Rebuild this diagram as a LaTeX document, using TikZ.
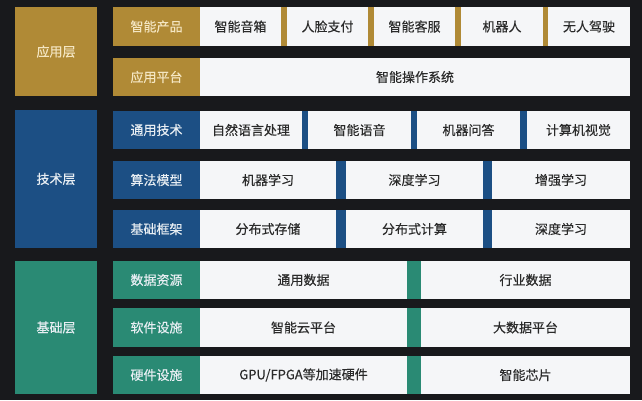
\documentclass[tikz,border=0pt]{standalone}
\usepackage{fontspec}
\setmainfont{Noto Sans CJK SC}[FakeBold=0.3]
\definecolor{bgc}{HTML}{18191C}
\definecolor{goldc}{HTML}{B08A36}
\definecolor{bluec}{HTML}{1C4F84}
\definecolor{greenc}{HTML}{2A8A74}
\definecolor{itemc}{HTML}{F5F6F8}
\definecolor{itemtxt}{HTML}{2A2A2A}
\definecolor{goldtxt}{HTML}{F4E6C2}
\definecolor{lighttxt}{HTML}{E8EEF3}
\tikzset{
  box/.style={rectangle, inner sep=0pt, outer sep=0pt, anchor=north west, font=\fontsize{13}{15}\selectfont},
  item/.style={box, fill=itemc, text=itemtxt},
  goldbox/.style={box, fill=goldc, text=goldtxt},
  bluebox/.style={box, fill=bluec, text=lighttxt},
  greenbox/.style={box, fill=greenc, text=lighttxt},
}
\begin{document}
\begin{tikzpicture}[x=1pt,y=-1pt]
\fill[bgc] (0,0) rectangle (642,400);
\useasboundingbox (0,0) rectangle (642,400);
% ---------- application layer ----------
\node[goldbox, minimum width=82pt, minimum height=89pt] (L1) at (15,7) {应用层};
\node[goldbox, minimum width=517pt, minimum height=39pt] (R11) at (113,7) {};
\node[goldbox, minimum width=87pt, minimum height=39pt] (C11) at (113,7) {智能产品};
\node[item, minimum width=81pt, minimum height=39pt] (a1) at (200,7) {智能音箱};
\node[item, minimum width=81pt, minimum height=39pt] (a2) at (287,7) {人脸支付};
\node[item, minimum width=81pt, minimum height=39pt] (a3) at (374,7) {智能客服};
\node[item, minimum width=82pt, minimum height=39pt] (a4) at (461,7) {机器人};
\node[item, minimum width=82pt, minimum height=39pt] (a5) at (548,7) {无人驾驶};
\node[goldbox, minimum width=87pt, minimum height=38pt] (C12) at (113,58) {应用平台};
\node[item, minimum width=430pt, minimum height=38pt] (a6) at (200,58) {智能操作系统};
% ---------- technology layer ----------
\node[bluebox, minimum width=82pt, minimum height=138pt] (L2) at (15,110) {技术层};
\node[bluebox, minimum width=517pt, minimum height=38pt] (R21) at (113,111) {};
\node[bluebox, minimum width=87pt, minimum height=38pt] (C21) at (113,111) {通用技术};
\node[item, minimum width=102pt, minimum height=38pt] (b1) at (200,111) {自然语言处理};
\node[item, minimum width=103pt, minimum height=38pt] (b2) at (308,111) {智能语音};
\node[item, minimum width=103pt, minimum height=38pt] (b3) at (417,111) {机器问答};
\node[item, minimum width=103pt, minimum height=38pt] (b4) at (527,111) {计算机视觉};
\node[bluebox, minimum width=517pt, minimum height=38pt] (R22) at (113,161) {};
\node[bluebox, minimum width=87pt, minimum height=38pt] (C22) at (113,161) {算法模型};
\node[item, minimum width=136pt, minimum height=38pt] (b5) at (200,161) {机器学习};
\node[item, minimum width=137pt, minimum height=38pt] (b6) at (346,161) {深度学习};
\node[item, minimum width=138pt, minimum height=38pt] (b7) at (492,161) {增强学习};
\node[bluebox, minimum width=517pt, minimum height=38pt] (R23) at (113,210) {};
\node[bluebox, minimum width=87pt, minimum height=38pt] (C23) at (113,210) {基础框架};
\node[item, minimum width=136pt, minimum height=38pt] (b8) at (200,210) {分布式存储};
\node[item, minimum width=137pt, minimum height=38pt] (b9) at (346,210) {分布式计算};
\node[item, minimum width=138pt, minimum height=38pt] (b10) at (492,210) {深度学习};
% ---------- base layer ----------
\node[greenbox, minimum width=82pt, minimum height=133pt] (L3) at (15,261) {基础层};
\node[greenbox, minimum width=517pt, minimum height=38pt] (R31) at (113,261) {};
\node[greenbox, minimum width=87pt, minimum height=38pt] (C31) at (113,261) {数据资源};
\node[item, minimum width=207pt, minimum height=38pt] (c1) at (200,261) {通用数据};
\node[item, minimum width=209pt, minimum height=38pt] (c2) at (421,261) {行业数据};
\node[greenbox, minimum width=517pt, minimum height=39pt] (R32) at (113,308) {};
\node[greenbox, minimum width=87pt, minimum height=39pt] (C32) at (113,308) {软件设施};
\node[item, minimum width=207pt, minimum height=39pt] (c3) at (200,308) {智能云平台};
\node[item, minimum width=209pt, minimum height=39pt] (c4) at (421,308) {大数据平台};
\node[greenbox, minimum width=517pt, minimum height=38pt] (R33) at (113,356) {};
\node[greenbox, minimum width=87pt, minimum height=38pt] (C33) at (113,356) {硬件设施};
\node[item, minimum width=207pt, minimum height=38pt] (c5) at (200,356) {GPU/FPGA等加速硬件};
\node[item, minimum width=209pt, minimum height=38pt] (c6) at (421,356) {智能芯片};
\end{tikzpicture}
\end{document}
